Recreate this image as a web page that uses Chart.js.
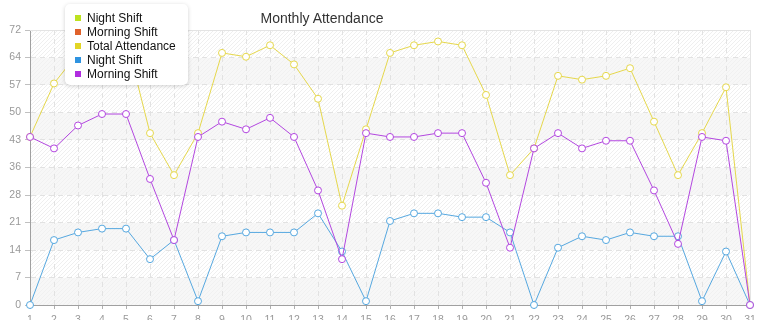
<!DOCTYPE html>
<html><head><meta charset="utf-8">
<script src="https://cdn.jsdelivr.net/npm/chart.js@4"></script>
<style>
html,body{margin:0;padding:0;background:#fff;}
#wrap{position:relative;width:765px;height:320px;overflow:hidden;}
#title{position:absolute;left:222px;top:11px;width:200px;text-align:center;font:14px "Liberation Sans",Arial,sans-serif;color:#333;line-height:14px;}
#legend{position:absolute;left:65px;top:4px;width:123px;height:81px;background:#fff;border-radius:5px;box-shadow:0 1px 4px rgba(0,0,0,0.18);box-sizing:border-box;padding-top:7px;}
.item{height:14px;line-height:14px;font:12px "Liberation Sans",Arial,sans-serif;color:#111;position:relative;}
.item .box{position:absolute;left:10px;top:4px;width:6px;height:6px;}
.item .lab{position:absolute;left:22px;top:0;white-space:nowrap;}
</style></head><body>
<div id="wrap"><canvas id="c" width="765" height="320"></canvas><div id="title">Monthly Attendance</div><div id="legend"></div></div>
<script>
const days = ['1','2','3','4','5','6','7','8','9','10','11','12','13','14','15','16','17','18','19','20','21','22','23','24','25','26','27','28','29','30','31'];
const nightShiftExtra = [];
const morningShiftExtra = [];
const totalAttendance = [44,58,66,70,70,45,34,45,66,65,68,63,54,26,46,66,68,69,68,55,34,41,60,59,60,62,48,34,45,57,0];
const nightShift = [0,17,19,20,20,12,17,1,18,19,19,19,24,14,1,22,24,24,23,23,19,0,15,18,17,19,18,18,1,14,0];
const morningShift = [44,41,47,50,50,33,17,44,48,46,49,44,30,12,45,44,44,45,45,32,15,41,45,41,43,43,30,16,44,43,0];
const yTickValues = [0,7.2,14.4,21.6,28.8,36,43.2,50.4,57.6,64.8,72];
const yTickLabels = ['0','7','14','21','28','36','43','50','57','64','72'];

const legendItems = [
  {label:'Night Shift', color:'#bde21f'},
  {label:'Morning Shift', color:'#e0622b'},
  {label:'Total Attendance', color:'#e2d526'},
  {label:'Night Shift', color:'#2f93e0'},
  {label:'Morning Shift', color:'#b02de0'}
];

function makePattern(bg, stripe){
  const p = document.createElement('canvas'); p.width = 4; p.height = 4;
  const g = p.getContext('2d');
  g.fillStyle = bg; g.fillRect(0,0,4,4);
  g.strokeStyle = stripe; g.lineWidth = 1;
  g.beginPath();
  g.moveTo(0,4); g.lineTo(4,0);
  g.moveTo(-1,1); g.lineTo(1,-1);
  g.moveTo(3,5); g.lineTo(5,3);
  g.stroke();
  return p;
}

const bgPlugin = {
  id:'bands',
  beforeDraw(chart){
    const {ctx, chartArea:a, scales:{y}} = chart;
    const pw = ctx.createPattern(makePattern('#ffffff','#efefef'),'repeat');
    const pg = ctx.createPattern(makePattern('#f7f7f7','#f1f1f1'),'repeat');
    ctx.save();
    for(let i=0;i<yTickValues.length-1;i++){
      const y1 = y.getPixelForValue(yTickValues[i+1]);
      const y0 = y.getPixelForValue(yTickValues[i]);
      ctx.fillStyle = (i%2===0) ? pg : pw;
      ctx.fillRect(a.left, y1, a.right-a.left, y0-y1);
    }
    ctx.restore();
  },
  beforeDatasetsDraw(chart){
    const {ctx, chartArea:a} = chart;
    ctx.save();
    ctx.strokeStyle = '#e4e4e4'; ctx.lineWidth = 1;
    ctx.beginPath();
    ctx.moveTo(a.left, a.top+0.5); ctx.lineTo(a.right+0.5, a.top+0.5);
    ctx.lineTo(a.right+0.5, a.bottom);
    ctx.stroke();
    ctx.restore();
  }
};

function ds(label, data, color, order){
  return {label, data, borderColor:color, backgroundColor:'#ffffff', borderWidth:1,
    pointRadius:3.5, pointBorderWidth:1, pointBackgroundColor:'#ffffff', pointBorderColor:color,
    tension:0, clip:false, order};
}

const chart = new Chart(document.getElementById('c'), {
  type:'line',
  data:{
    labels: days,
    datasets:[
      ds('Night Shift', nightShiftExtra, '#bde21f', 5),
      ds('Morning Shift', morningShiftExtra, '#e0622b', 4),
      ds('Total Attendance', totalAttendance, '#e6d84c', 3),
      ds('Night Shift', nightShift, '#56a8e0', 2),
      ds('Morning Shift', morningShift, '#b347e0', 1)
    ]
  },
  options:{
    responsive:false, animation:false, devicePixelRatio:1,
    layout:{padding:{top:30,right:15,left:0,bottom:0}},
    plugins:{legend:{display:false}, title:{display:false}, tooltip:{enabled:false}},
    scales:{
      x:{
        offset:false,
        grid:{color:'#e2e2e2', drawTicks:true, tickLength:4, tickColor:'#b0b0b0', lineWidth:1},
        border:{color:'#a0a0a0', width:1, dash:[5,4]},
        ticks:{padding:5, color:'#999', font:{size:10.5, family:'"Liberation Sans", Arial, sans-serif'}, maxRotation:0, autoSkip:false},
        afterFit(s){ s.height = 15; }
      },
      y:{
        min:0, max:72,
        afterBuildTicks(s){ s.ticks = yTickValues.map(v=>({value:v})); },
        grid:{color:'#e2e2e2', drawTicks:true, tickLength:5, tickColor:'#c0c0c0', lineWidth:1},
        border:{color:'#a0a0a0', width:1, dash:[5,4]},
        ticks:{padding:4, color:'#999', font:{size:10.5, family:'"Liberation Sans", Arial, sans-serif'}, callback:(v,i)=>yTickLabels[i]},
        afterFit(s){ s.width = 30; }
      }
    }
  },
  plugins:[bgPlugin]
});

const lg = document.getElementById('legend');
legendItems.forEach(it=>{
  const d = document.createElement('div'); d.className='item';
  const b = document.createElement('span'); b.className='box'; b.style.background = it.color;
  const l = document.createElement('span'); l.className='lab'; l.textContent = it.label;
  d.appendChild(b); d.appendChild(l); lg.appendChild(d);
});
</script>
</body></html>
